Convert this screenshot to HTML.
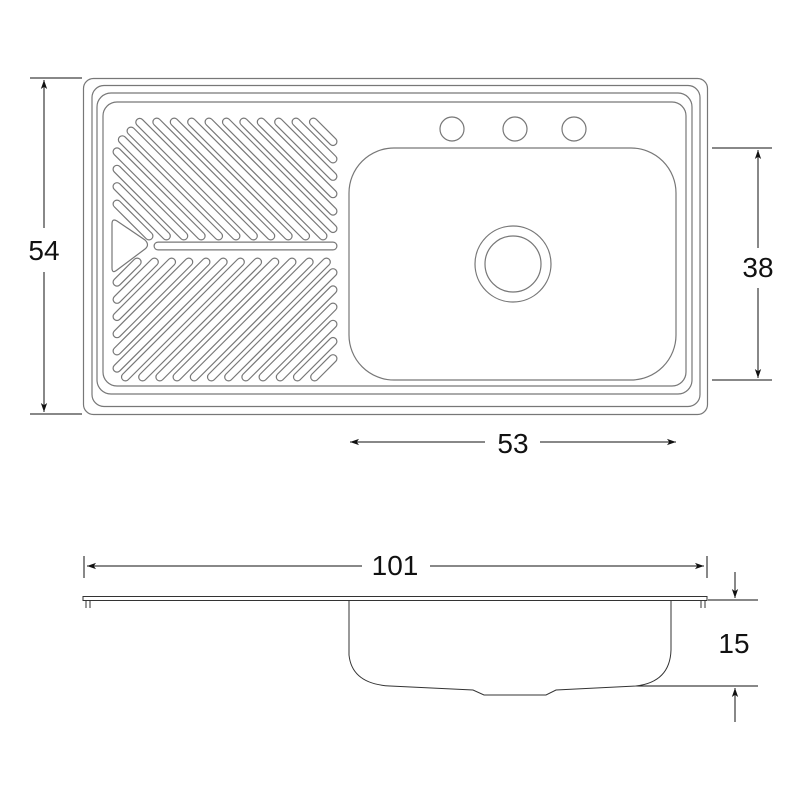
<!DOCTYPE html>
<html><head><meta charset="utf-8"><style>
html,body{margin:0;padding:0;background:#fff;}
svg{display:block}
text{font-family:"Liberation Sans",sans-serif;font-size:28px;fill:#111;}
</style></head><body>
<svg id="s" width="800" height="800" viewBox="0 0 800 800" xmlns="http://www.w3.org/2000/svg">
<defs>
<marker id="ah" viewBox="0 0 10 10" refX="10" refY="5" markerWidth="9" markerHeight="9" orient="auto-start-reverse" markerUnits="userSpaceOnUse"><path d="M0,1.5 L10,5 L0,8.5 L2.5,5 Z" fill="#111"/></marker>
</defs>
<g fill="none" stroke="#777" stroke-width="1.2">
<rect x="83.5" y="78.5" width="624" height="336" rx="10"/>
<rect x="92" y="85.5" width="608" height="321" rx="12"/>
<rect x="97" y="93" width="595" height="301" rx="14"/>
<rect x="103" y="102" width="583" height="284" rx="14"/>
<rect x="349" y="148" width="327" height="232" rx="45"/>
<circle cx="452" cy="129" r="12"/>
<circle cx="515" cy="129" r="12"/>
<circle cx="574" cy="129" r="12"/>
<circle cx="513" cy="264" r="38"/>
<circle cx="513" cy="264" r="28"/>
<path d="M112,224 Q112,218 117,221 L145,240 Q150,245 145,249 L117,270 Q112,274 112,268 Z"/>
</g>
<g id="gr"></g>
<g stroke="#111" stroke-width="1" fill="none">
<line x1="30" y1="78" x2="82" y2="78"/><line x1="30" y1="414" x2="82" y2="414"/>
<line x1="44" y1="80" x2="44" y2="228" marker-start="url(#ah)"/>
<line x1="44" y1="272" x2="44" y2="412" marker-end="url(#ah)"/>
<line x1="712" y1="148" x2="772" y2="148"/><line x1="712" y1="380" x2="772" y2="380"/>
<line x1="758" y1="150" x2="758" y2="248" marker-start="url(#ah)"/>
<line x1="758" y1="288" x2="758" y2="378" marker-end="url(#ah)"/>
<line x1="350" y1="442" x2="485" y2="442" marker-start="url(#ah)"/>
<line x1="540" y1="442" x2="676" y2="442" marker-end="url(#ah)"/>
<line x1="84" y1="556" x2="84" y2="578"/><line x1="707" y1="556" x2="707" y2="578"/>
<line x1="87" y1="566" x2="362" y2="566" marker-start="url(#ah)"/>
<line x1="430" y1="566" x2="704" y2="566" marker-end="url(#ah)"/>
<line x1="735" y1="572" x2="735" y2="598" marker-end="url(#ah)"/>
<line x1="735" y1="722" x2="735" y2="688" marker-end="url(#ah)"/>
<line x1="708" y1="600" x2="758" y2="600"/>
<line x1="636" y1="686" x2="758" y2="686"/>
</g>
<g stroke="#333" stroke-width="1" fill="none">
<rect x="83" y="596.5" width="624" height="4"/>
<line x1="86" y1="601" x2="86" y2="608"/><line x1="90" y1="601" x2="90" y2="608"/>
<line x1="701" y1="601" x2="701" y2="608"/><line x1="705" y1="601" x2="705" y2="608"/>
<path d="M349,601 L349,655 Q352,684 390,686 L473,690 L484,695 L546,695 L556,690 L636,686 Q670,682 671,650 L671,601"/>
</g>
<text x="44" y="260" text-anchor="middle">54</text>
<text x="758" y="277" text-anchor="middle">38</text>
<text x="513" y="453" text-anchor="middle">53</text>
<text x="395" y="575" text-anchor="middle">101</text>
<text x="734" y="653" text-anchor="middle">15</text>
</svg>
<script>
(function(){
var g=document.getElementById('gr'),out='';
function seg(x1,y1,x2,y2){out+='<line x1="'+x1+'" y1="'+y1+'" x2="'+x2+'" y2="'+y2+'"/>';}
for(var i=0;i<17;i++){var c=-87+i*17.4;
 var x0=117,x1=333,y0=122,y1=236;
 var xs=Math.max(x0,y0+c),xe=Math.min(x1,y1+c);
 xs=Math.max(xs,(262+c)/2);
 if(xe-xs>4)seg(xs,xs-c,xe,xe-c);}
for(var i=0;i<19;i++){var c=382+i*17.2;
 var x0=117,x1=333,y0=262,y1=377;
 var xs=Math.max(x0,c-y1),xe=Math.min(x1,c-y0);
 if(xe-xs>4)seg(xs,c-xs,xe,c-xe);}
seg(158,246,333,246);
g.innerHTML='<g stroke="#777" stroke-width="9" stroke-linecap="round">'+out+'</g><g stroke="#fff" stroke-width="6.6" stroke-linecap="round">'+out+'</g>';
})();
</script>
</body></html>
